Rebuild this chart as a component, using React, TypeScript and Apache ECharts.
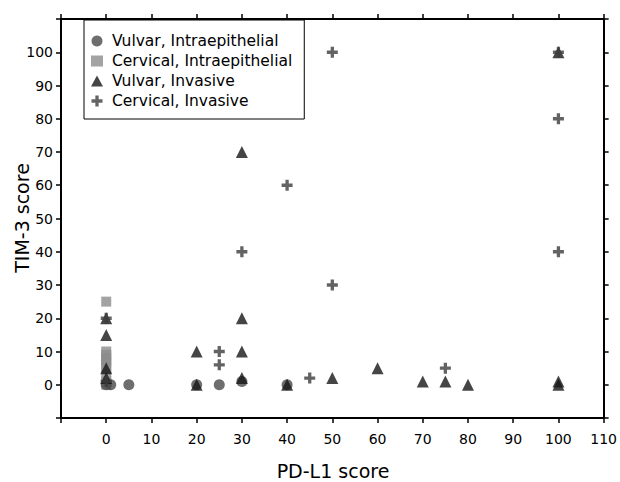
import React, { useEffect, useRef } from "react";
import * as echarts from "echarts";

const vulvarIntra: number[][] = [
  [0, 0], [1, 0], [5, 0], [20, 0], [25, 0], [30, 1], [40, 0],
];
const cervicalIntra: number[][] = [
  [0, 25], [0, 10], [0, 9], [0, 8], [0, 7], [0, 6], [0, 5], [0, 3], [0, 1], [0, 0],
];
const vulvarInv: number[][] = [
  [0, 20], [0, 15], [0, 5], [0, 2],
  [20, 10], [20, 0],
  [30, 70], [30, 20], [30, 10], [30, 2],
  [40, 0], [50, 2], [60, 5], [70, 1], [75, 1], [80, 0],
  [100, 100], [100, 1], [100, 0],
];
const cervicalInv: number[][] = [
  [0, 20], [0, 1], [25, 10], [25, 6], [30, 40], [40, 60], [45, 2],
  [50, 100], [50, 30], [75, 5], [100, 100], [100, 80], [100, 40],
];
const seriesNames = [
  "Vulvar, Intraepithelial",
  "Cervical, Intraepithelial",
  "Vulvar, Invasive",
  "Cervical, Invasive",
];

const FONT = "DejaVu Sans";
const CROSS = "path://M3.5,0 H6.5 V3.5 H10 V6.5 H6.5 V10 H3.5 V6.5 H0 V3.5 H3.5 Z";

export default function App() {
  const ref = useRef<HTMLDivElement>(null);
  useEffect(() => {
    if (!ref.current) return;
    const chart = echarts.init(ref.current, null, { renderer: "svg" });
    const axisLine = { show: true, onZero: false, lineStyle: { color: "#000", width: 2 } };
    const axisTick = { show: true, length: 5, lineStyle: { color: "#000", width: 1.5 } };
    const xBase = { type: "value", min: -10, max: 110, interval: 10, splitLine: { show: false }, axisLine, axisTick };
    const yBase = { type: "value", min: -10, max: 110, interval: 10, splitLine: { show: false }, axisLine, axisTick };
    chart.setOption({
      animation: false,
      backgroundColor: "#fff",
      grid: { left: 61, right: 15, top: 19, bottom: 64 },
      xAxis: [
        {
          ...xBase,
          position: "bottom",
          axisLabel: {
            color: "#000", fontFamily: FONT, fontSize: 14, margin: 14,
            formatter: (v: number) => (v < 0 ? "" : String(v)),
          },
        },
        { ...xBase, position: "top", axisLabel: { show: false } },
      ],
      yAxis: [
        {
          ...yBase,
          position: "left",
          axisLabel: {
            color: "#000", fontFamily: FONT, fontSize: 14, margin: 8,
            formatter: (v: number) => (v < 0 || v > 100 ? "" : String(v)),
          },
        },
        { ...yBase, position: "right", axisLabel: { show: false } },
      ],
      legend: {
        orient: "vertical",
        left: 84,
        top: 20,
        padding: [13, 12, 10, 7],
        itemGap: 4,
        itemWidth: 12,
        itemHeight: 11,
        borderColor: "#000",
        borderWidth: 1,
        backgroundColor: "#fff",
        textStyle: { color: "#000", fontFamily: FONT, fontSize: 15.5, padding: [0, 0, 0, 4] },
        data: [
          { name: seriesNames[0], icon: "circle" },
          { name: seriesNames[1], icon: "rect" },
          { name: seriesNames[2], icon: "triangle" },
          { name: seriesNames[3], icon: CROSS },
        ],
      },
      graphic: [
        {
          type: "text", x: 333, y: 471,
          style: { text: "PD-L1 score", font: `19px "${FONT}"`, fill: "#000", textAlign: "center", textVerticalAlign: "middle" },
        },
        {
          type: "text", x: 22, y: 218, rotation: Math.PI / 2,
          style: { text: "TIM-3 score", font: `19px "${FONT}"`, fill: "#000", textAlign: "center", textVerticalAlign: "middle" },
        },
      ],
      series: [
        {
          name: seriesNames[1], type: "scatter", data: cervicalIntra, symbol: "rect", symbolSize: 10,
          itemStyle: { color: "#8c8c8c" }, z: 2,
        },
        {
          name: seriesNames[0], type: "scatter", data: vulvarIntra, symbol: "circle", symbolSize: 11,
          itemStyle: { color: "#4a4a4a" }, z: 3,
        },
        {
          name: seriesNames[2], type: "scatter", data: vulvarInv, symbol: "triangle", symbolSize: 12,
          itemStyle: { color: "#161616" }, z: 4,
        },
        {
          name: seriesNames[3], type: "scatter", data: cervicalInv, symbol: CROSS, symbolSize: 11,
          itemStyle: { color: "#3c3c3c" }, z: 5,
        },
      ],
    });
    return () => chart.dispose();
  }, []);
  return <div ref={ref} style={{ position: "fixed", left: 0, top: 0, width: 620, height: 482 }} />;
}
